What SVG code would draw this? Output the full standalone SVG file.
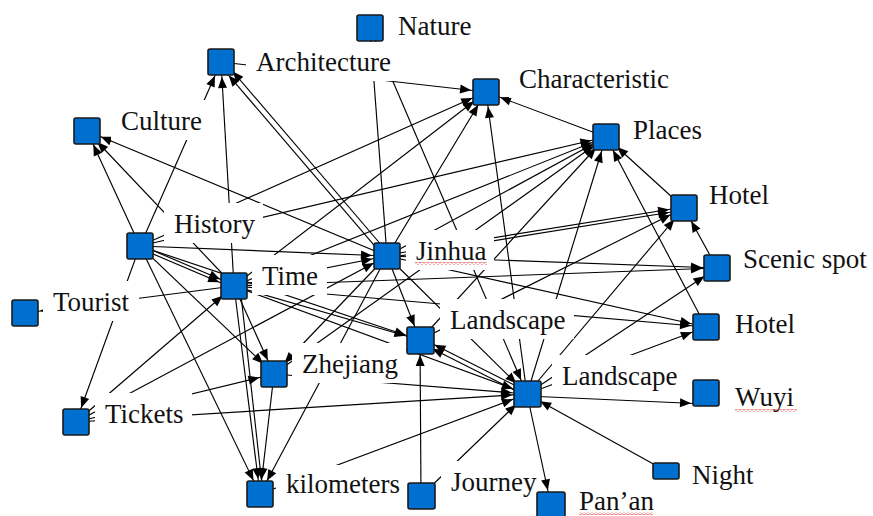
<svg xmlns="http://www.w3.org/2000/svg" width="873" height="516" viewBox="0 0 873 516">
<style>
.e{stroke:#000;stroke-width:1.15;fill:none}
.a{marker-end:url(#arr)}
.n{fill:#0070d0;stroke:#1a1a1a;stroke-width:1.6}
.lb{fill:#fff}
.t{font-family:"Liberation Serif","Times New Roman",serif;font-size:27px;fill:#111}
</style>
<defs>
<marker id="arr" markerUnits="userSpaceOnUse" markerWidth="12" markerHeight="9" refX="26" refY="4.5" orient="auto" overflow="visible">
<path d="M0,0 L11,4.5 L0,9 z" fill="#000"/>
</marker>
<pattern id="wave" patternUnits="userSpaceOnUse" width="4" height="3" x="0" y="0">
<path d="M0,2.2 L2,0.6 L4,2.2" stroke="#e03a3a" stroke-width="0.8" fill="none"/>
</pattern>
</defs>
<rect width="873" height="516" fill="#fff"/>
<g id="edges">
<line class="e a" x1="234" y1="286" x2="221" y2="62"/>
<line class="e a" x1="140" y1="246" x2="221" y2="62"/>
<line class="e a" x1="385" y1="258" x2="219" y2="64"/>
<line class="e a" x1="389" y1="254" x2="223" y2="60"/>
<line class="e a" x1="140" y1="246" x2="87" y2="131"/>
<line class="e a" x1="234" y1="286" x2="87" y2="131"/>
<line class="e a" x1="387" y1="256" x2="87" y2="131"/>
<line class="e a" x1="221" y1="62" x2="486" y2="92"/>
<line class="e a" x1="606" y1="137" x2="486" y2="92"/>
<line class="e a" x1="527" y1="394" x2="486" y2="92"/>
<line class="e a" x1="140" y1="246" x2="486" y2="92"/>
<line class="e a" x1="234" y1="286" x2="486" y2="92"/>
<line class="e a" x1="387" y1="256" x2="486" y2="92"/>
<line class="e a" x1="140" y1="246" x2="606" y2="137"/>
<line class="e a" x1="234" y1="286" x2="606" y2="137"/>
<line class="e a" x1="387" y1="256" x2="606" y2="137"/>
<line class="e a" x1="274" y1="374" x2="606" y2="137"/>
<line class="e a" x1="420" y1="340" x2="606" y2="137"/>
<line class="e a" x1="527" y1="394" x2="606" y2="137"/>
<line class="e a" x1="684" y1="208" x2="606" y2="137"/>
<line class="e a" x1="706" y1="327" x2="606" y2="137"/>
<line class="e a" x1="387" y1="255" x2="684" y2="207"/>
<line class="e a" x1="387" y1="258" x2="684" y2="210"/>
<line class="e a" x1="420" y1="340" x2="684" y2="208"/>
<line class="e a" x1="527" y1="394" x2="684" y2="208"/>
<line class="e a" x1="717" y1="268" x2="684" y2="208"/>
<line class="e a" x1="387" y1="256" x2="717" y2="268"/>
<line class="e a" x1="234" y1="286" x2="717" y2="268"/>
<line class="e a" x1="527" y1="394" x2="717" y2="268"/>
<line class="e a" x1="387" y1="256" x2="706" y2="327"/>
<line class="e a" x1="234" y1="286" x2="706" y2="327"/>
<line class="e a" x1="527" y1="394" x2="706" y2="327"/>
<line class="e a" x1="527" y1="396" x2="706" y2="404"/>
<line class="e a" x1="666" y1="471" x2="527" y2="394"/>
<line class="e a" x1="527" y1="394" x2="551" y2="505"/>
<line class="e a" x1="421" y1="496" x2="527" y2="394"/>
<line class="e a" x1="421" y1="496" x2="420" y2="340"/>
<line class="e a" x1="528" y1="392" x2="421" y2="338"/>
<line class="e a" x1="526" y1="396" x2="419" y2="342"/>
<line class="e a" x1="260" y1="494" x2="527" y2="394"/>
<line class="e a" x1="76" y1="422" x2="527" y2="394"/>
<line class="e a" x1="274" y1="374" x2="527" y2="394"/>
<line class="e a" x1="387" y1="256" x2="527" y2="394"/>
<line class="e a" x1="370" y1="28" x2="527" y2="394"/>
<line class="e" x1="370" y1="28" x2="387" y2="256"/>
<line class="e a" x1="234" y1="286" x2="527" y2="394"/>
<line class="e a" x1="234" y1="286" x2="420" y2="340"/>
<line class="e a" x1="140" y1="246" x2="420" y2="340"/>
<line class="e a" x1="387" y1="256" x2="420" y2="340"/>
<line class="e a" x1="140" y1="246" x2="76" y2="422"/>
<line class="e a" x1="234" y1="286" x2="25" y2="313"/>
<line class="e a" x1="140" y1="245" x2="234" y2="285"/>
<line class="e a" x1="139" y1="248" x2="233" y2="288"/>
<line class="e a" x1="140" y1="246" x2="274" y2="374"/>
<line class="e a" x1="140" y1="246" x2="260" y2="494"/>
<line class="e a" x1="234" y1="286" x2="274" y2="374"/>
<line class="e a" x1="234" y1="286" x2="260" y2="494"/>
<line class="e a" x1="240" y1="286" x2="263" y2="494"/>
<line class="e a" x1="274" y1="374" x2="260" y2="494"/>
<line class="e a" x1="387" y1="256" x2="260" y2="494"/>
<line class="e a" x1="76" y1="422" x2="274" y2="374"/>
<line class="e a" x1="76" y1="422" x2="234" y2="286"/>
<line class="e a" x1="76" y1="422" x2="387" y2="256"/>
<line class="e a" x1="387" y1="256" x2="274" y2="374"/>
<line class="e a" x1="140" y1="246" x2="387" y2="256"/>
<line class="e a" x1="234" y1="286" x2="387" y2="256"/>
</g>
<g id="label-boxes">
<rect class="lb" x="388" y="5" width="92" height="40"/>
<rect class="lb" x="246" y="42" width="153" height="39"/>
<rect class="lb" x="111" y="100" width="99" height="40"/>
<rect class="lb" x="164" y="203" width="99" height="40"/>
<rect class="lb" x="406" y="230" width="88" height="40"/>
<rect class="lb" x="509" y="58" width="168" height="40"/>
<rect class="lb" x="623" y="109" width="87" height="40"/>
<rect class="lb" x="699" y="174" width="78" height="40"/>
<rect class="lb" x="733" y="238" width="140" height="40"/>
<rect class="lb" x="725" y="303" width="78" height="40"/>
<rect class="lb" x="725" y="376" width="78" height="40"/>
<rect class="lb" x="682" y="454" width="80" height="40"/>
<rect class="lb" x="568" y="480" width="92" height="36"/>
<rect class="lb" x="552" y="355" width="134" height="40"/>
<rect class="lb" x="440" y="299" width="134" height="40"/>
<rect class="lb" x="252" y="255" width="75" height="40"/>
<rect class="lb" x="43" y="281" width="96" height="40"/>
<rect class="lb" x="292" y="343" width="114" height="40"/>
<rect class="lb" x="95" y="393" width="97" height="40"/>
<rect class="lb" x="276" y="465" width="131" height="38"/>
<rect class="lb" x="441" y="461" width="97" height="40"/>
</g>
<g id="node-nature"><rect class="n" x="357" y="15" width="26" height="26" rx="2"/><text class="t" x="398" y="35">Nature</text></g>
<g id="node-architecture"><rect class="n" x="208" y="49" width="26" height="26" rx="2"/><text class="t" x="256" y="71">Architecture</text></g>
<g id="node-culture"><rect class="n" x="74" y="118" width="26" height="26" rx="2"/><text class="t" x="121" y="130">Culture</text></g>
<g id="node-history"><rect class="n" x="127" y="233" width="26" height="26" rx="2"/><text class="t" x="174" y="233">History</text></g>
<g id="node-jinhua"><rect class="n" x="374" y="243" width="26" height="26" rx="2"/><text class="t" x="416" y="260">Jinhua</text><rect x="415" y="262" width="72" height="3" fill="url(#wave)"/></g>
<g id="node-characteristic"><rect class="n" x="473" y="79" width="26" height="26" rx="2"/><text class="t" x="519" y="88">Characteristic</text></g>
<g id="node-places"><rect class="n" x="593" y="124" width="26" height="26" rx="2"/><text class="t" x="633" y="139">Places</text></g>
<g id="node-hotel-1"><rect class="n" x="671" y="195" width="26" height="26" rx="2"/><text class="t" x="709" y="204">Hotel</text></g>
<g id="node-scenic-spot"><rect class="n" x="704" y="255" width="26" height="26" rx="2"/><text class="t" x="743" y="268">Scenic spot</text></g>
<g id="node-hotel-2"><rect class="n" x="693" y="314" width="26" height="26" rx="2"/><text class="t" x="735" y="333">Hotel</text></g>
<g id="node-wuyi"><rect class="n" x="693" y="380" width="26" height="26" rx="2"/><text class="t" x="735" y="406">Wuyi</text><rect x="735" y="409" width="62" height="3" fill="url(#wave)"/></g>
<g id="node-night"><rect class="n" x="653" y="463" width="26" height="16" rx="2"/><text class="t" x="692" y="484">Night</text></g>
<g id="node-panan"><rect class="n" x="537" y="492" width="28" height="28" rx="2"/><text class="t" x="579" y="510">Pan’an</text><rect x="579" y="512" width="74" height="3" fill="url(#wave)"/></g>
<g id="node-landscape-2"><rect class="n" x="514" y="381" width="27" height="26" rx="2"/><text class="t" x="562" y="385">Landscape</text></g>
<g id="node-landscape-1"><rect class="n" x="407" y="327" width="27" height="27" rx="2"/><text class="t" x="450" y="329">Landscape</text></g>
<g id="node-time"><rect class="n" x="221" y="273" width="26" height="26" rx="2"/><text class="t" x="262" y="285">Time</text></g>
<g id="node-tourist"><rect class="n" x="12" y="300" width="26" height="26" rx="2"/><text class="t" x="53" y="311">Tourist</text></g>
<g id="node-zhejiang"><rect class="n" x="261" y="361" width="26" height="26" rx="2"/><text class="t" x="302" y="373">Zhejiang</text></g>
<g id="node-tickets"><rect class="n" x="63" y="409" width="26" height="26" rx="2"/><text class="t" x="105" y="423">Tickets</text></g>
<g id="node-kilometers"><rect class="n" x="247" y="481" width="26" height="26" rx="2"/><text class="t" x="286" y="493">kilometers</text></g>
<g id="node-journey"><rect class="n" x="408" y="483" width="27" height="26" rx="2"/><text class="t" x="451" y="491">Journey</text></g>
</svg>
